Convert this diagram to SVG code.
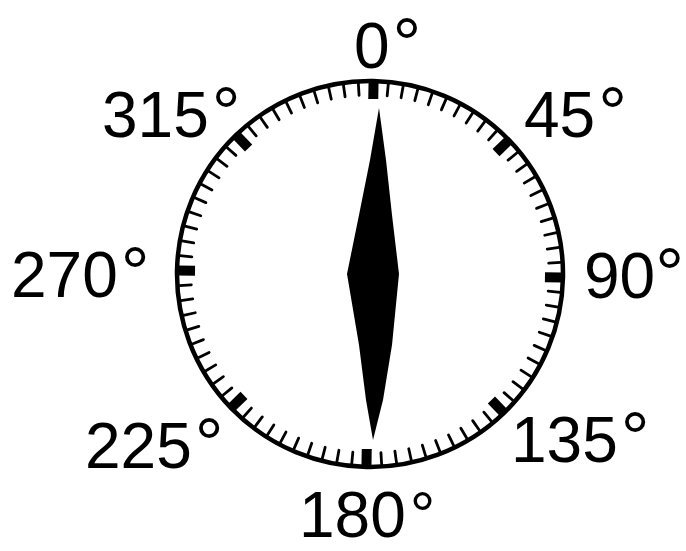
<svg xmlns="http://www.w3.org/2000/svg" width="686" height="551" viewBox="0 0 686 551">
<style>
.lbl{font-family:"Liberation Sans",Arial,Helvetica,sans-serif;font-size:64px;fill:#000}
.deg{font-size:72px}
.tk{stroke:#000;stroke-width:2.8;stroke-linecap:round}
</style>
<defs>
<line id="t" class="tk" x1="370" y1="83" x2="370" y2="95"/>
<rect id="m" x="365.2" y="82" width="10" height="17" fill="#000"/>
</defs>
<rect width="686" height="551" fill="#fff"/>
<g id="dial" transform="rotate(1 370 274)">
<circle cx="370" cy="274" r="193" fill="none" stroke="#000" stroke-width="4.5"/>
<g id="major">
<use href="#m"/><use href="#m" transform="rotate(45 370 274)"/><use href="#m" transform="rotate(90 370 274)"/><use href="#m" transform="rotate(135 370 274)"/><use href="#m" transform="rotate(180 370 274)"/><use href="#m" transform="rotate(225 370 274)"/><use href="#m" transform="rotate(270 370 274)"/><use href="#m" transform="rotate(315 370 274)"/>
</g>
<g id="minor">
<use href="#t" transform="rotate(4.5 370 274)"/><use href="#t" transform="rotate(9 370 274)"/><use href="#t" transform="rotate(13.5 370 274)"/><use href="#t" transform="rotate(18 370 274)"/><use href="#t" transform="rotate(22.5 370 274)"/><use href="#t" transform="rotate(27 370 274)"/><use href="#t" transform="rotate(31.5 370 274)"/><use href="#t" transform="rotate(36 370 274)"/><use href="#t" transform="rotate(40.5 370 274)"/>
<use href="#t" transform="rotate(49.5 370 274)"/><use href="#t" transform="rotate(54 370 274)"/><use href="#t" transform="rotate(58.5 370 274)"/><use href="#t" transform="rotate(63 370 274)"/><use href="#t" transform="rotate(67.5 370 274)"/><use href="#t" transform="rotate(72 370 274)"/><use href="#t" transform="rotate(76.5 370 274)"/><use href="#t" transform="rotate(81 370 274)"/><use href="#t" transform="rotate(85.5 370 274)"/>
<use href="#t" transform="rotate(94.5 370 274)"/><use href="#t" transform="rotate(99 370 274)"/><use href="#t" transform="rotate(103.5 370 274)"/><use href="#t" transform="rotate(108 370 274)"/><use href="#t" transform="rotate(112.5 370 274)"/><use href="#t" transform="rotate(117 370 274)"/><use href="#t" transform="rotate(121.5 370 274)"/><use href="#t" transform="rotate(126 370 274)"/><use href="#t" transform="rotate(130.5 370 274)"/>
<use href="#t" transform="rotate(139.5 370 274)"/><use href="#t" transform="rotate(144 370 274)"/><use href="#t" transform="rotate(148.5 370 274)"/><use href="#t" transform="rotate(153 370 274)"/><use href="#t" transform="rotate(157.5 370 274)"/><use href="#t" transform="rotate(162 370 274)"/><use href="#t" transform="rotate(166.5 370 274)"/><use href="#t" transform="rotate(171 370 274)"/><use href="#t" transform="rotate(175.5 370 274)"/>
<use href="#t" transform="rotate(184.5 370 274)"/><use href="#t" transform="rotate(189 370 274)"/><use href="#t" transform="rotate(193.5 370 274)"/><use href="#t" transform="rotate(198 370 274)"/><use href="#t" transform="rotate(202.5 370 274)"/><use href="#t" transform="rotate(207 370 274)"/><use href="#t" transform="rotate(211.5 370 274)"/><use href="#t" transform="rotate(216 370 274)"/><use href="#t" transform="rotate(220.5 370 274)"/>
<use href="#t" transform="rotate(229.5 370 274)"/><use href="#t" transform="rotate(234 370 274)"/><use href="#t" transform="rotate(238.5 370 274)"/><use href="#t" transform="rotate(243 370 274)"/><use href="#t" transform="rotate(247.5 370 274)"/><use href="#t" transform="rotate(252 370 274)"/><use href="#t" transform="rotate(256.5 370 274)"/><use href="#t" transform="rotate(261 370 274)"/><use href="#t" transform="rotate(265.5 370 274)"/>
<use href="#t" transform="rotate(274.5 370 274)"/><use href="#t" transform="rotate(279 370 274)"/><use href="#t" transform="rotate(283.5 370 274)"/><use href="#t" transform="rotate(288 370 274)"/><use href="#t" transform="rotate(292.5 370 274)"/><use href="#t" transform="rotate(297 370 274)"/><use href="#t" transform="rotate(301.5 370 274)"/><use href="#t" transform="rotate(306 370 274)"/><use href="#t" transform="rotate(310.5 370 274)"/>
<use href="#t" transform="rotate(319.5 370 274)"/><use href="#t" transform="rotate(324 370 274)"/><use href="#t" transform="rotate(328.5 370 274)"/><use href="#t" transform="rotate(333 370 274)"/><use href="#t" transform="rotate(337.5 370 274)"/><use href="#t" transform="rotate(342 370 274)"/><use href="#t" transform="rotate(346.5 370 274)"/><use href="#t" transform="rotate(351 370 274)"/><use href="#t" transform="rotate(355.5 370 274)"/>
</g>
</g>
<g id="needle">
<polygon points="379,108 386,160 392,215 399,274 392,345 383,400 373,440 366,400 359,345 347,274 359,215 370,160" fill="#000"/>
</g>
<g id="labels">
<g id="l0"><text class="lbl" x="354" y="68">0<tspan class="deg" dx="3">°</tspan></text></g>
<g id="l45"><text class="lbl" x="524" y="137">45<tspan class="deg" dx="3">°</tspan></text></g>
<g id="l90"><text class="lbl" x="584" y="298">90<tspan class="deg">°</tspan></text></g>
<g id="l135"><text class="lbl" x="511" y="462">135<tspan class="deg" dx="3">°</tspan></text></g>
<g id="l180"><text class="lbl" x="299" y="537">180<tspan dx="4">°</tspan></text></g>
<g id="l225"><text class="lbl" x="85" y="468">225<tspan class="deg" dx="3">°</tspan></text></g>
<g id="l270"><text class="lbl" x="11" y="297">270<tspan class="deg" dx="3">°</tspan></text></g>
<g id="l315"><text class="lbl" x="102" y="137">315<tspan class="deg" dx="3">°</tspan></text></g>
</g>
</svg>
